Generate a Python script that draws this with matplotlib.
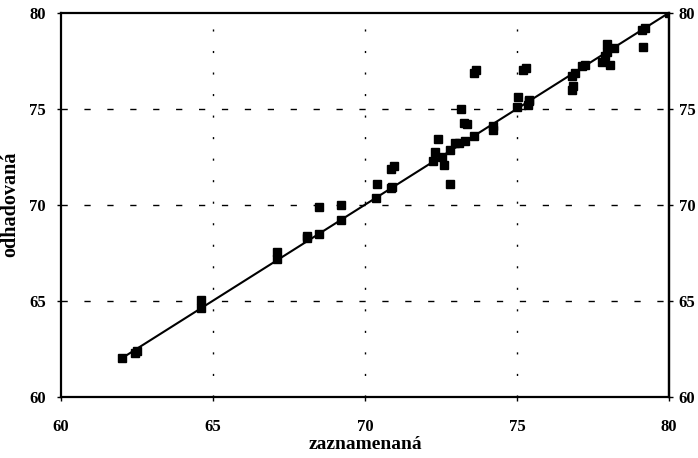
import matplotlib
matplotlib.use("Agg")
import matplotlib.pyplot as plt

plt.rcParams['font.family'] = ['Liberation Serif', 'DejaVu Serif']
plt.rcParams['font.weight'] = 'bold'
plt.rcParams['lines.scale_dashes'] = False

# observed (zaznamenaná) vs estimated (odhadovaná)
x_obs = [62.0, 62.45, 62.5, 64.6, 64.6, 67.1, 67.1, 68.1, 68.1, 68.5, 68.5,
         69.2, 69.2, 70.35, 70.4, 70.85, 70.9, 70.85, 70.95,
         72.25, 72.3, 72.4, 72.55, 72.6, 72.8, 72.8, 72.95,
         73.1, 73.15, 73.25, 73.35, 73.3, 73.6, 73.6, 73.65,
         74.2, 74.2, 75.0, 75.05, 75.2, 75.35, 75.4, 75.3, 75.4,
         76.8, 76.85, 76.8, 76.9, 77.15, 77.25, 77.8, 77.95, 77.95, 78.05, 78.2, 77.9,
         79.1, 79.2, 79.15, 80.0]
y_est = [62.0, 62.25, 62.4, 64.6, 65.05, 67.15, 67.55, 68.25, 68.35, 68.5, 69.9,
         69.2, 70.0, 70.35, 71.1, 70.85, 70.9, 71.85, 72.0,
         72.3, 72.75, 73.4, 72.5, 72.05, 72.85, 71.1, 73.2,
         73.2, 75.0, 74.25, 74.2, 73.3, 73.6, 76.85, 77.0,
         73.9, 74.1, 75.1, 75.6, 77.0, 75.2, 75.4, 77.15, 75.45,
         76.0, 76.2, 76.7, 76.85, 77.25, 77.3, 77.45, 77.95, 78.4, 77.3, 78.15, 77.75,
         79.1, 79.2, 78.2, 80.0]
line_x = [62, 80]
line_y = [62, 80]
ticks = [60, 65, 70, 75, 80]

fig = plt.figure(figsize=(6.98, 4.58), dpi=100)
ax = fig.add_axes([0.0874, 0.134, 0.871, 0.838])

for t in ticks[1:-1]:
    ax.axhline(t, color='black', lw=1.0, linestyle=(0, (4.5, 12)), zorder=1)
    ax.axvline(t, color='black', lw=1.0, linestyle=(0, (1.5, 14)), zorder=1)

ax.plot(line_x, line_y, color='black', lw=1.5, zorder=2)
ax.plot(x_obs, y_est, linestyle='none', marker='s', markersize=5.8,
        color='black', zorder=3)

ax.set_xlim(60, 80)
ax.set_ylim(60, 80)
ax.set_xticks(ticks)
ax.set_yticks(ticks)
ax.tick_params(axis='both', labelsize=12, length=3, width=1, direction='out')
ax.tick_params(axis='y', right=False, labelright=False, pad=8)
ax.tick_params(axis='x', top=False, pad=13)

sec = ax.secondary_yaxis('right')
sec.set_yticks(ticks)
sec.tick_params(axis='y', labelsize=12, length=3, width=1, direction='out', pad=4)
sec.spines['right'].set_linewidth(1.6)

for s in ax.spines.values():
    s.set_linewidth(1.6)

ax.set_xlabel('zaznamenaná', fontsize=14, fontweight='bold', labelpad=1)
ax.set_ylabel('odhadovaná', fontsize=14.5, fontweight='bold', labelpad=6)

fig.savefig('out.png', dpi=100)
